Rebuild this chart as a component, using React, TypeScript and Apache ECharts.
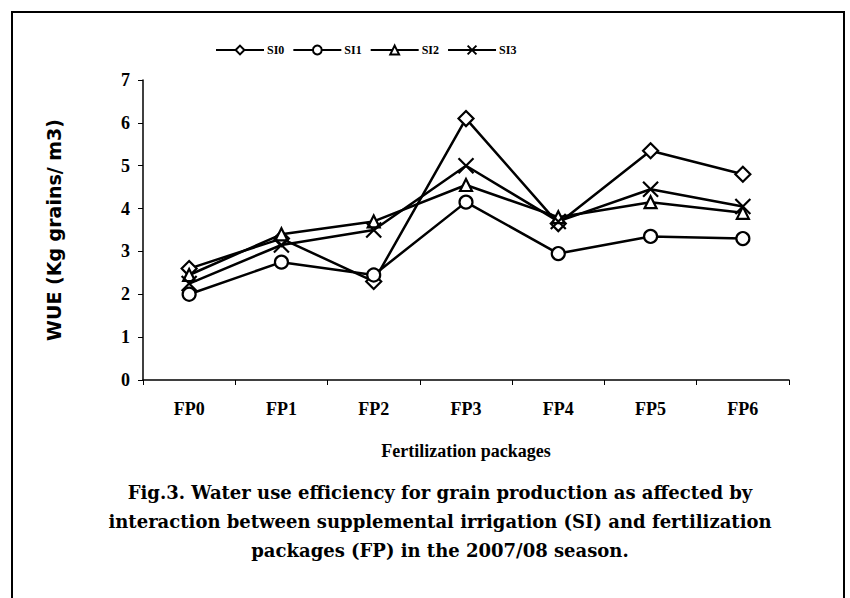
import React, { useEffect, useRef } from "react";
import * as echarts from "echarts";

const categories = ["FP0", "FP1", "FP2", "FP3", "FP4", "FP5", "FP6"];
const seriesNames = ["SI0", "SI1", "SI2", "SI3"];
const si0 = [2.6, 3.3, 2.3, 6.1, 3.65, 5.35, 4.8];
const si1 = [2.0, 2.75, 2.45, 4.15, 2.95, 3.35, 3.3];
const si2 = [2.45, 3.4, 3.7, 4.55, 3.8, 4.15, 3.9];
const si3 = [2.25, 3.15, 3.5, 5.0, 3.7, 4.45, 4.05];
const yTicks = { min: 0, max: 7, interval: 1 };
const captionLines = [
  "Fig.3. Water use efficiency for grain production as affected by",
  "interaction between supplemental irrigation (SI) and fertilization",
  "packages (FP) in the 2007/08 season.",
];

const serif = "'Liberation Serif', 'Times New Roman', serif";
const wideSerif = "'DejaVu Serif', 'Liberation Serif', serif";
const heavySans = "'DejaVu Sans', 'Liberation Sans', sans-serif";
const X_SYMBOL = "path://M0,0L10,10M10,0L0,10";

export default function App() {
  const ref = useRef<HTMLDivElement>(null);
  useEffect(() => {
    document.body.style.margin = "0";
    if (!ref.current) return;
    const chart = echarts.init(ref.current, null, { renderer: "svg" });
    const data = [si0, si1, si2, si3];
    const symbols = ["diamond", "circle", "triangle", X_SYMBOL];
    const sizes = [15, 13, 12, 15];
    chart.setOption({
      animation: false,
      backgroundColor: "#ffffff",
      legend: {
        top: 39,
        left: 210,
        itemWidth: 48,
        itemHeight: 11,
        itemGap: 8,
        data: seriesNames,
        textStyle: { fontFamily: serif, fontWeight: "bold", fontSize: 12, color: "#000", padding: [0, 0, 0, -2] },
      },
      grid: { left: 143, right: 61, top: 80, bottom: 218 },
      xAxis: {
        type: "category",
        data: categories,
        boundaryGap: true,
        name: "Fertilization packages",
        nameLocation: "middle",
        nameGap: 62,
        nameTextStyle: { fontFamily: serif, fontWeight: "bold", fontSize: 18, color: "#000" },
        axisLine: { lineStyle: { color: "#000", width: 1.5 } },
        axisTick: { show: true, inside: false, length: 5, lineStyle: { color: "#000" } },
        axisLabel: { margin: 20, fontFamily: serif, fontWeight: "bold", fontSize: 18, color: "#000" },
        splitLine: { show: false },
      },
      yAxis: {
        type: "value",
        min: yTicks.min,
        max: yTicks.max,
        interval: yTicks.interval,
        name: "WUE (Kg grains/ m3)",
        nameLocation: "middle",
        nameGap: 80,
        nameTextStyle: { fontFamily: heavySans, fontWeight: "bold", fontSize: 19, color: "#000" },
        axisLine: { show: true, lineStyle: { color: "#000", width: 1.5 } },
        axisTick: { show: true, inside: false, length: 5, lineStyle: { color: "#000" } },
        axisLabel: { margin: 13, fontFamily: serif, fontWeight: "bold", fontSize: 18, color: "#000" },
        splitLine: { show: false },
      },
      series: seriesNames.map((name, i) => ({
        name,
        type: "line",
        data: data[i],
        symbol: symbols[i],
        symbolSize: sizes[i],
        showAllSymbol: true,
        lineStyle: { color: "#000", width: 2.5 },
        itemStyle: {
          color: i === 3 ? "#000" : "#fff",
          borderColor: "#000",
          borderWidth: 2.2,
        },
        emphasis: { disabled: true },
      })),
      graphic: [
        {
          type: "rect",
          shape: { x: 12, y: 12, width: 832, height: 600 },
          style: { fill: "none", stroke: "#000", lineWidth: 2 },
          silent: true,
        },
        ...captionLines.map((t, i) => ({
          type: "text",
          x: 440,
          y: 492 + i * 29,
          style: {
            text: t,
            fontFamily: wideSerif,
            fontWeight: "bold",
            fontSize: 18,
            fill: "#000",
            textAlign: "center",
            textVerticalAlign: "middle",
          },
          silent: true,
        })),
      ],
    });
    return () => chart.dispose();
  }, []);
  return <div ref={ref} style={{ width: 850, height: 598 }} />;
}
